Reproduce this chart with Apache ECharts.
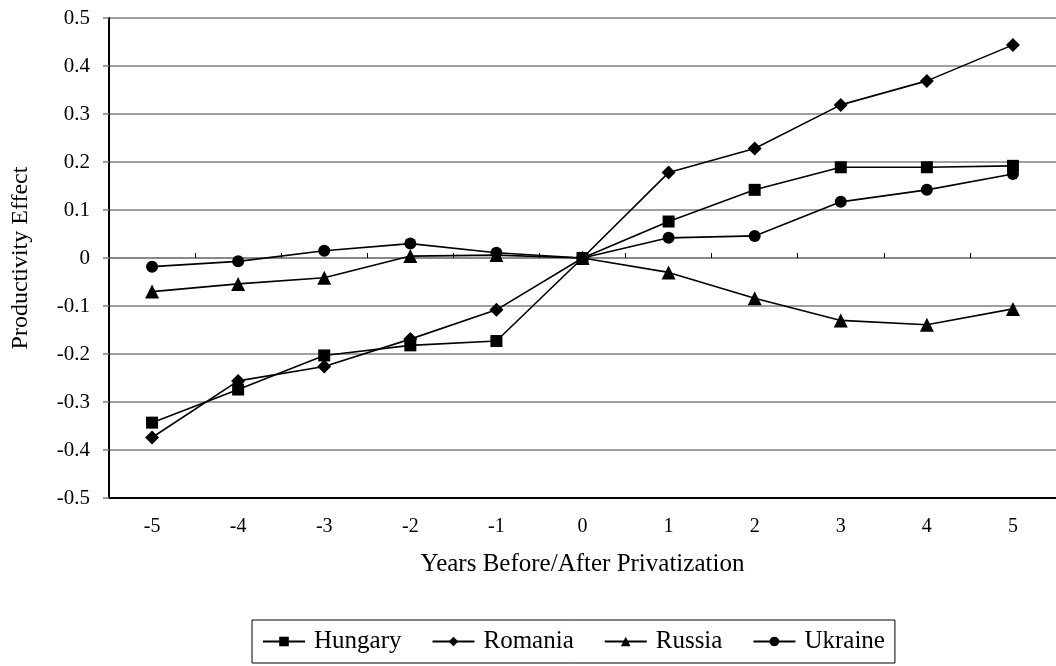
<!DOCTYPE html>
<html>
<head>
<meta charset="utf-8">
<script src="https://cdn.jsdelivr.net/npm/echarts@6/dist/echarts.min.js"></script>
<style>html,body{margin:0;padding:0;background:#fff}#c{width:1056px;height:666px}</style>
</head>
<body>
<div id="c"></div>
<script>
var years = ['-5','-4','-3','-2','-1','0','1','2','3','4','5'];
var hungary = [-0.343,-0.274,-0.203,-0.182,-0.173,0,0.076,0.142,0.189,0.189,0.192];
var romania = [-0.374,-0.256,-0.226,-0.169,-0.108,0,0.178,0.228,0.319,0.369,0.444];
var russia  = [-0.070,-0.054,-0.041,0.004,0.006,0,-0.030,-0.084,-0.130,-0.139,-0.106];
var ukraine = [-0.018,-0.007,0.015,0.030,0.011,0,0.042,0.046,0.117,0.142,0.175];

var FONT = '"Liberation Serif","Times New Roman",serif';
var chart = echarts.init(document.getElementById('c'), null, {renderer:'canvas'});
function s(name, data, symbol, size){
  return {name:name, type:'line', data:data, xAxisIndex:0, symbol:symbol, symbolSize:size,
    showAllSymbol:true, lineStyle:{color:'#000', width:1.6}, itemStyle:{color:'#000'},
    emphasis:{disabled:true}, animation:false, z:3};
}
chart.setOption({
  animation:false,
  backgroundColor:'#fff',
  textStyle:{fontFamily:FONT},
  grid:{left:109, top:18, width:952, height:480},
  xAxis:[{
    type:'category', data:years, boundaryGap:true, position:'bottom',
    axisLine:{onZero:false, lineStyle:{color:'#000', width:2}},
    axisTick:{show:false},
    axisLabel:{margin:19, fontSize:20, fontFamily:FONT, color:'#000'},
    splitLine:{show:false},
    name:'Years Before/After Privatization', nameLocation:'middle', nameGap:54,
    nameTextStyle:{fontSize:25, fontFamily:FONT, color:'#000'}
  },{
    type:'category', data:years, boundaryGap:true, position:'bottom',
    axisLine:{onZero:true, lineStyle:{color:'#808080', width:1.5}},
    axisTick:{show:true, inside:true, length:5, lineStyle:{color:'#000', width:1}},
    axisLabel:{show:false}, splitLine:{show:false}
  }],
  yAxis:{
    type:'value', min:-0.5, max:0.5, interval:0.1,
    axisLine:{show:true, lineStyle:{color:'#000', width:2}},
    axisTick:{show:true, length:6, lineStyle:{color:'#808080', width:1.5}},
    axisLabel:{margin:19, fontSize:21, fontFamily:FONT, color:'#000',
      formatter:function(v){ var r=Math.round(v*10)/10; return r===0?'0':r.toFixed(1); }},
    splitLine:{show:true, lineStyle:{color:'#808080', width:1.5}},
    name:'Productivity Effect', nameLocation:'middle', nameRotate:90, nameGap:76,
    nameTextStyle:{fontSize:24, fontFamily:FONT, color:'#000'}
  },
  legend:{
    left:252, top:620, orient:'horizontal',
    padding:[9,10,9,10], itemGap:30, itemWidth:42, itemHeight:12,
    borderColor:'#000', borderWidth:1,
    textStyle:{fontSize:25, fontFamily:FONT, color:'#000', padding:[0,0,0,4]},
    data:['Hungary','Romania','Russia','Ukraine']
  },
  series:[
    s('Hungary', hungary, 'rect', 12),
    s('Romania', romania, 'diamond', 14),
    s('Russia', russia, 'triangle', 14),
    s('Ukraine', ukraine, 'circle', 12)
  ]
});
</script>
</body>
</html>
